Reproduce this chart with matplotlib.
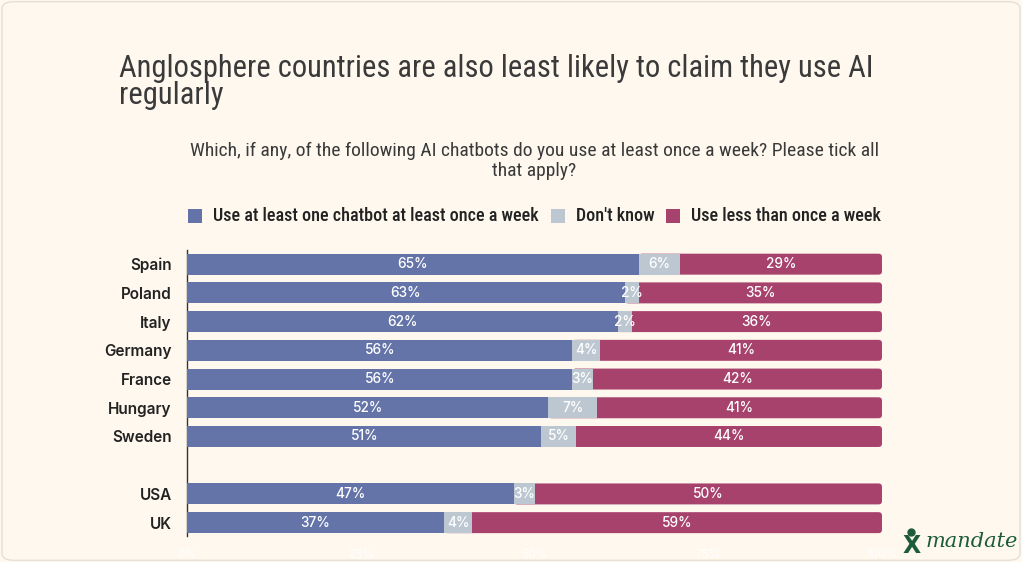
import numpy as np
import matplotlib
matplotlib.use("Agg")
import matplotlib.pyplot as plt
from matplotlib.patches import FancyBboxPatch, Rectangle
from matplotlib.lines import Line2D

# data
countries = ["Spain", "Poland", "Italy", "Germany", "France", "Hungary", "Sweden", "USA", "UK"]
weekly = [65, 63, 62, 56, 56, 52, 51, 47, 37]
dont_know = [6, 2, 2, 4, 3, 7, 5, 3, 4]
less = [29, 35, 36, 41, 42, 41, 44, 50, 59]
positions = [0, 1, 2, 3, 4, 5, 6, 8, 9]
xticks = [0, 25, 50, 75, 100]
xticklabels = ["0%", "25%", "50%", "75%", "100%"]

series_names = ["Use at least one chatbot at least once a week", "Don't know", "Use less than once a week"]
colors = ["#6474A8", "#BDC7D1", "#A7426D"]
bg = "#FEF8EE"
green = "#1D5C3A"
narrow = ["Roboto Condensed", "Lato", "DejaVu Sans"]
sans = ["Inter", "DejaVu Sans"]

fig = plt.figure(figsize=(10.22, 5.62), dpi=100)
fig.patch.set_facecolor(bg)
# outer frame
fig.patches.append(FancyBboxPatch((0.002, 0.003), 0.996, 0.994, boxstyle="round,pad=0,rounding_size=0.012",
                                  transform=fig.transFigure, facecolor="none", edgecolor="#E6DFD3", lw=1.0))

ax = fig.add_axes([0.183, 0.046, 0.680, 0.509])
ax.set_facecolor(bg)

# rows sum to 100 on the chart; rounded labels can add to 101
tot = np.array(weekly) + np.array(dont_know) + np.array(less)
w = np.array(weekly) / tot * 100
d = np.array(dont_know) / tot * 100
l = np.array(less) / tot * 100
h = 0.73

# magenta bars with rounded right end, starting under the grey segment
for i, y in enumerate(positions):
    start = w[i]
    p = FancyBboxPatch((start, y - h / 2), 100 - start, h,
                       boxstyle="round,pad=0,rounding_size=0.5", mutation_aspect=0.24,
                       facecolor=colors[2], edgecolor="none", zorder=2)
    ax.add_patch(p)
ax.barh(positions, d, left=w, height=h, color=colors[1], zorder=3)
ax.barh(positions, w, height=h, color=colors[0], zorder=3)

for i, y in enumerate(positions):
    ax.text(w[i] / 2, y, f"{weekly[i]}%", ha="center", va="center", color="white",
            fontsize=9.8, family=sans, fontweight="medium", zorder=4)
    ax.text(w[i] + d[i] / 2, y, f"{dont_know[i]}%", ha="center", va="center", color="white",
            fontsize=9.8, family=sans, fontweight="medium", zorder=4)
    ax.text(w[i] + d[i] + l[i] / 2, y, f"{less[i]}%", ha="center", va="center", color="white",
            fontsize=9.8, family=sans, fontweight="medium", zorder=4)

ax.set_xlim(0, 100)
ax.set_ylim(9.47, -0.49)
ax.set_yticks(positions)
ax.set_yticklabels(countries, fontsize=11, fontweight="semibold", family=sans, color="#222222")
ax.set_xticks(xticks)
ax.set_xticklabels(xticklabels, fontsize=8.5, color="white", family=sans)
ax.tick_params(axis="both", length=0)
ax.tick_params(axis="y", pad=11)
ax.tick_params(axis="x", pad=9)
for s in ["top", "right", "bottom"]:
    ax.spines[s].set_visible(False)
ax.spines["left"].set_color("#333333")
ax.spines["left"].set_linewidth(1.0)

# titles
fig.text(0.116, 1 - 104 / 562, "Anglosphere countries are also least likely to claim they use AI\nregularly",
         fontsize=22, color="#3A3A3A", family=narrow, ha="left", va="baseline", linespacing=0.9)
fig.text(0.523, 1 - 176 / 562,
         "Which, if any, of the following AI chatbots do you use at least once a week? Please tick all\nthat apply?",
         fontsize=14, color="#3A3A3A", family=narrow, ha="center", va="baseline", linespacing=1.15)

# legend
lx = [188 / 1022, 551 / 1022, 666 / 1022]
for name, c, x in zip(series_names, colors, lx):
    fig.patches.append(Rectangle((x, 1 - 223 / 562), 14 / 1022, 14 / 562, transform=fig.transFigure,
                                 facecolor=c, edgecolor="none"))
    fig.text(x + 25 / 1022, 1 - 216 / 562, name, fontsize=13, color="#222222", family=narrow,
             fontweight="medium", ha="left", va="center")

# logo
fig.text(0.8835, 0.016, "X", fontsize=17, color=green, fontweight="bold", family=["DejaVu Sans"],
         ha="left", va="baseline")
fig.add_artist(Line2D([0.8915], [0.054], marker="o", markersize=5, color=green,
                      transform=fig.transFigure))
fig.text(0.906, 0.027, "mandate", fontsize=15, color=green, style="italic",
         family=["DejaVu Serif"], ha="left", va="baseline")

fig.savefig("out.png", dpi=100, facecolor=bg)
